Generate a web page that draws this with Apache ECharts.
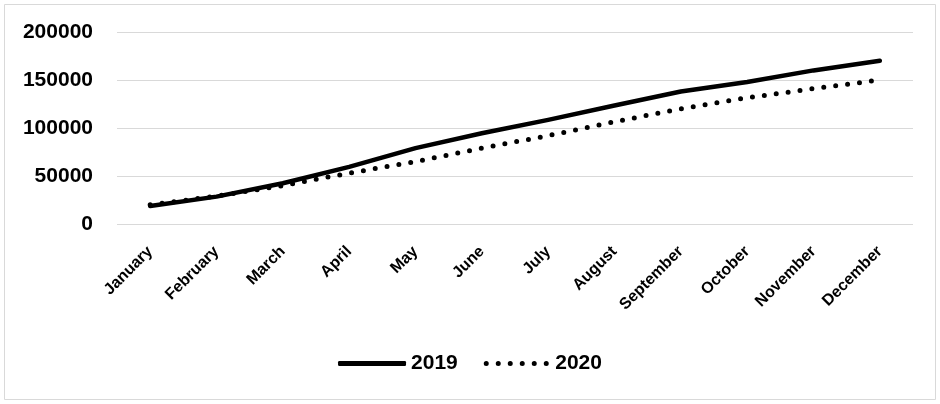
<!DOCTYPE html>
<html><head><meta charset="utf-8">
<script src="https://cdn.jsdelivr.net/npm/echarts@6/dist/echarts.min.js"></script>
<style>html,body{margin:0;padding:0;background:#fff}#c{width:940px;height:404px}</style>
</head><body><div id="c"></div>
<script>
const categories = ['January','February','March','April','May','June','July','August','September','October','November','December'];
const values2019 = [18800, 28500, 42500, 59500, 79000, 94500, 108500, 123500, 138000, 148000, 160000, 170000];
const values2020 = [20000, 29000, 40000, 53000, 65000, 79000, 92000, 106500, 120000, 131500, 141000, 150000];
const yTicks = [0, 50000, 100000, 150000, 200000];

const chart = echarts.init(document.getElementById('c'));
const font = '"Liberation Sans", Arial, sans-serif';
let dots = '';
for (let i = 0; i < 6; i++) { const x = i * 12; dots += `M${x},2.5a2.5,2.5 0 1,0 5,0a2.5,2.5 0 1,0 -5,0Z`; }
chart.setOption({
  animation: false,
  graphic: [{type:'rect', shape:{x:4.5,y:4.5,width:931,height:395}, style:{fill:'none', stroke:'#d9d9d9', lineWidth:1}, silent:true}],
  grid: {left: 117, right: 27, top: 32, bottom: 180},
  xAxis: {
    type: 'category', data: categories, boundaryGap: true,
    axisLine: {show: false}, axisTick: {show: false},
    axisLabel: {rotate: 45, fontSize: 16, fontWeight: 'bold', color: '#000', fontFamily: font, margin: 25, interval: 0}
  },
  yAxis: {
    type: 'value', min: yTicks[0], max: yTicks[yTicks.length-1], interval: 50000,
    axisLine: {show: false}, axisTick: {show: false},
    axisLabel: {fontSize: 21, fontWeight: 'bold', color: '#000', fontFamily: font, margin: 24, formatter: v => String(v)},
    splitLine: {lineStyle: {color: '#d9d9d9', width: 1}}
  },
  legend: {
    bottom: 25, left: 'center', itemWidth: 68, itemHeight: 5, itemGap: 26,
    textStyle: {fontSize: 21, fontWeight: 'bold', color: '#000', fontFamily: font},
    data: [
      {name: '2019', icon: 'roundRect', itemStyle: {color: '#000'}},
      {name: '2020', icon: 'path://' + dots, itemStyle: {color: '#000'}}
    ]
  },
  series: [
    {name: '2019', type: 'line', data: values2019, symbol: 'none',
     lineStyle: {color: '#000', width: 4.5, cap: 'round', join: 'round'}, itemStyle:{color:'#000'}},
    {name: '2020', type: 'line', data: values2020, symbol: 'none',
     lineStyle: {color: '#000', width: 5, type: [0, 12], cap: 'round'}, itemStyle:{color:'#000'}}
  ]
});
</script></body></html>
